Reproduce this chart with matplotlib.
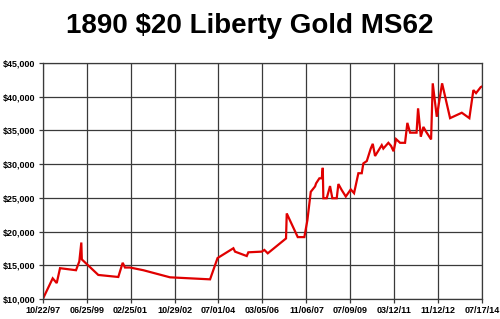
import matplotlib
matplotlib.use("Agg")
import matplotlib.pyplot as plt
import matplotlib.ticker as mticker
import pandas as pd

# price history
dates = ["1997-10-22", "1998-03-10", "1998-05-05", "1998-06-20", "1999-01-28",
         "1999-03-15", "1999-04-12", "1999-04-19", "1999-12-04", "2000-09-07",
         "2000-11-07", "2000-12-09", "2001-02-17", "2001-08-21", "2002-08-27",
         "2004-03-06", "2004-06-18", "2005-01-24", "2005-02-16", "2005-07-29",
         "2005-08-20", "2006-02-22", "2006-03-31", "2006-05-17", "2007-01-26",
         "2007-02-05", "2007-07-08", "2007-10-08", "2007-11-19", "2008-01-05",
         "2008-03-05", "2008-03-19", "2008-05-04", "2008-06-06", "2008-06-20",
         "2008-06-28", "2008-08-14", "2008-09-29", "2008-10-31", "2008-12-31",
         "2009-01-23", "2009-03-11", "2009-05-06", "2009-07-14", "2009-08-29",
         "2009-10-28", "2009-12-14", "2010-01-05", "2010-02-22", "2010-04-18",
         "2010-05-16", "2010-06-17", "2010-09-18", "2010-10-10", "2010-12-19",
         "2011-01-25", "2011-03-01", "2011-04-05", "2011-05-31", "2011-08-08",
         "2011-09-09", "2011-10-17", "2012-01-15", "2012-02-05", "2012-03-14",
         "2012-04-19", "2012-05-26", "2012-08-04", "2012-08-27", "2012-10-22",
         "2013-01-04", "2013-04-25", "2013-10-05", "2014-01-18", "2014-03-15",
         "2014-04-21", "2014-06-26", "2014-07-17"]
prices = [10000, 13100, 12400, 14600, 14300,
          15600, 18400, 15900, 13600, 13300,
          15400, 14700, 14700, 14300, 13250,
          12950, 16100, 17550, 17050, 16400,
          16950, 17050, 17300, 16800, 19000,
          22700, 19200, 19200, 21700, 25900,
          26700, 27150, 27900, 27900, 29450,
          24950, 24950, 26750, 24950, 24950,
          27050, 26150, 25200, 26250, 25700,
          28650, 28650, 30100, 30450, 32300,
          33000, 31200, 32800, 32300, 33150,
          32700, 31900, 33700, 33150, 33150,
          36100, 34650, 34650, 38250, 34050,
          35500, 34800, 33650, 41950, 37000,
          41950, 36800, 37600, 36800, 40950,
          40500, 41400, 41500]

tick_dates = ["1997-10-22", "1999-06-25", "2001-02-25", "2002-10-29", "2004-07-01",
              "2006-03-05", "2007-11-06", "2009-07-09", "2011-03-12", "2012-11-12",
              "2014-07-17"]
tick_labels = ["10/22/97", "06/25/99", "02/25/01", "10/29/02", "07/01/04",
               "03/05/06", "11/06/07", "07/09/09", "03/12/11", "11/12/12",
               "07/17/14"]
y_ticks = [10000, 15000, 20000, 25000, 30000, 35000, 40000, 45000]

plt.rcParams['font.family'] = ['Liberation Sans', 'DejaVu Sans']

fig = plt.figure(figsize=(5, 3.19), dpi=100)
ax = fig.add_axes([0.0854, 0.0618, 0.8792, 0.7416])

x = pd.to_datetime(dates)
ax.plot(x, prices, color='#e00000', lw=1.6, solid_joinstyle='miter')

tx = pd.to_datetime(tick_dates)
ax.set_xlim(tx[0], tx[-1])
ax.set_ylim(10000, 45000)
ax.set_xticks(tx)
ax.set_xticklabels(tick_labels)
ax.set_yticks(y_ticks)
ax.yaxis.set_major_formatter(mticker.FuncFormatter(lambda v, p: "${:,.0f}".format(v)))

ax.grid(True, color='#3a3a3a', lw=0.9)
ax.set_axisbelow(True)
for s in ax.spines.values():
    s.set_color('#3a3a3a')
    s.set_linewidth(0.9)
ax.tick_params(axis='both', length=3, width=0.9, color='#3a3a3a')
ax.tick_params(axis='x', pad=2)
ax.tick_params(axis='y', pad=2.5)
for lab in ax.get_xticklabels():
    lab.set_fontsize(6.5)
    lab.set_fontweight('bold')
for lab in ax.get_yticklabels():
    lab.set_fontsize(6.5)
    lab.set_fontweight('bold')

fig.text(0.5, 0.918, "1890 $20 Liberty Gold MS62", ha='center', va='center',
         fontsize=20, fontweight='bold')

fig.savefig("out.png", dpi=100)
